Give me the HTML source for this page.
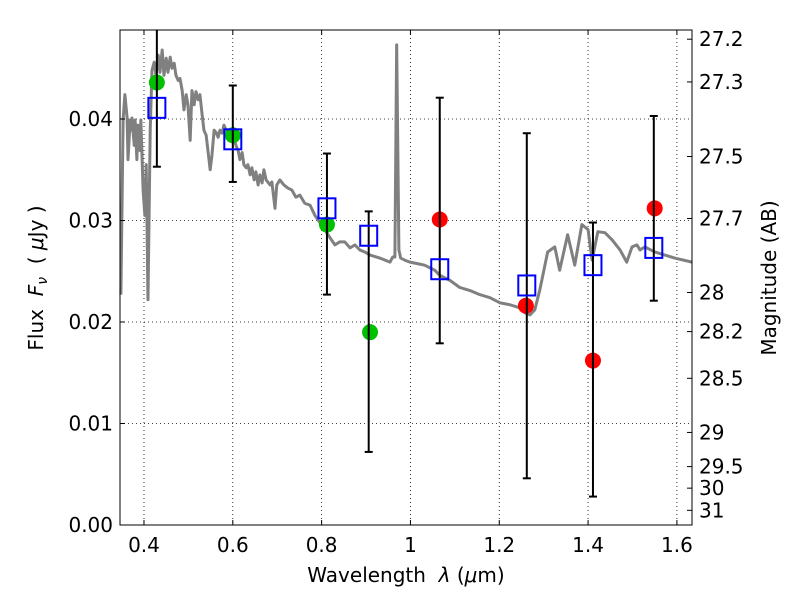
<!DOCTYPE html>
<html><head><meta charset="utf-8"><style>
body{margin:0;background:#fff}
svg text{font-family:"DejaVu Sans","Liberation Sans",sans-serif;fill:#000;white-space:pre}
</style></head><body>
<svg id="chart" width="800" height="600" xmlns="http://www.w3.org/2000/svg">
<rect width="800" height="600" fill="#fff"/>
<g id="grid"></g>
<g id="spec"></g>
<g id="marks"></g>
<rect x="120" y="30" width="572" height="495" fill="none" stroke="#000" stroke-width="1"/>
<g id="axes"></g>
<text x="406" y="582" font-size="20" text-anchor="middle">Wavelength  <tspan font-style="italic">λ</tspan> (<tspan font-style="italic">μ</tspan>m)</text>
<text transform="translate(43,278) rotate(-90)" font-size="20" text-anchor="middle">Flux  <tspan font-style="italic">F</tspan><tspan font-style="italic" font-size="14" dy="4">ν</tspan><tspan dy="-4">  ( </tspan><tspan font-style="italic">μ</tspan>Jy )</text>
<text transform="translate(776,278) rotate(-90)" font-size="20" text-anchor="middle">Magnitude (AB)</text>
</svg>
<script>
const specLam=[0.348,0.353,0.357,0.362,0.364,0.369,0.371,0.373,0.378,0.380,0.384,0.386,0.391,0.393,0.398,0.402,0.405,0.409,0.414,0.418,0.423,0.427,0.432,0.436,0.441,0.445,0.450,0.454,0.459,0.463,0.468,0.472,0.477,0.481,0.486,0.490,0.495,0.499,0.504,0.508,0.513,0.517,0.522,0.526,0.531,0.535,0.540,0.544,0.549,0.553,0.558,0.562,0.567,0.571,0.576,0.580,0.585,0.589,0.594,0.598,0.603,0.607,0.612,0.616,0.621,0.625,0.630,0.634,0.639,0.643,0.648,0.652,0.657,0.661,0.666,0.670,0.675,0.684,0.688,0.695,0.699,0.706,0.715,0.724,0.733,0.742,0.751,0.762,0.774,0.785,0.796,0.807,0.819,0.830,0.841,0.852,0.864,0.875,0.886,0.897,0.909,0.931,0.954,0.960,0.965,0.969,0.974,0.978,0.987,0.999,1.021,1.032,1.055,1.066,1.089,1.111,1.134,1.156,1.179,1.201,1.224,1.246,1.258,1.269,1.280,1.291,1.309,1.325,1.336,1.354,1.370,1.386,1.400,1.409,1.422,1.438,1.454,1.472,1.487,1.499,1.510,1.517,1.528,1.550,1.573,1.595,1.634];
const specFlux=[0.0227,0.0399,0.0424,0.0401,0.0360,0.0399,0.0389,0.0401,0.0374,0.0399,0.0360,0.0394,0.0369,0.0399,0.0330,0.0305,0.0355,0.0222,0.0389,0.0448,0.0456,0.0443,0.0463,0.0446,0.0468,0.0443,0.0460,0.0446,0.0461,0.0450,0.0455,0.0443,0.0438,0.0440,0.0428,0.0409,0.0424,0.0414,0.0379,0.0428,0.0414,0.0427,0.0419,0.0424,0.0404,0.0389,0.0384,0.0369,0.0350,0.0364,0.0389,0.0387,0.0382,0.0389,0.0386,0.0394,0.0389,0.0389,0.0384,0.0379,0.0381,0.0374,0.0369,0.0360,0.0367,0.0355,0.0352,0.0355,0.0345,0.0352,0.0340,0.0348,0.0335,0.0345,0.0337,0.0350,0.0340,0.0335,0.0338,0.0312,0.0335,0.0340,0.0335,0.0332,0.0330,0.0323,0.0325,0.0317,0.0315,0.0305,0.0298,0.0291,0.0283,0.0276,0.0279,0.0279,0.0273,0.0276,0.0271,0.0269,0.0266,0.0263,0.0259,0.0264,0.0264,0.0473,0.0271,0.0263,0.0261,0.0259,0.0257,0.0256,0.0251,0.0246,0.0241,0.0234,0.0231,0.0227,0.0224,0.0219,0.0217,0.0214,0.0209,0.0207,0.0212,0.0231,0.0269,0.0274,0.0251,0.0286,0.0256,0.0296,0.0291,0.0261,0.0289,0.0288,0.0281,0.0271,0.0259,0.0274,0.0276,0.0271,0.0274,0.0269,0.0266,0.0263,0.0259];
const greenLam=[0.429,0.600,0.812,0.909];
const greenFlux=[0.0436,0.0384,0.0296,0.0190];
const redLam=[1.066,1.260,1.411,1.550];
const redFlux=[0.0301,0.0216,0.0162,0.0312];
const sqLam=[0.429,0.600,0.812,0.906,1.066,1.262,1.411,1.548];
const sqFlux=[0.0411,0.0380,0.0312,0.0285,0.0252,0.0236,0.0256,0.0273];
const errLo=[0.0353,0.0338,0.0227,0.0072,0.0179,0.0046,0.0028,0.0221];
const errHi=[0.0505,0.0433,0.0366,0.0309,0.0421,0.0386,0.0298,0.0403];
const xTicks=[0.4,0.6,0.8,1.0,1.2,1.4,1.6];
const xTickLabels=["0.4","0.6","0.8","1","1.2","1.4","1.6"];
const yTicks=[0,0.01,0.02,0.03,0.04];
const yTickLabels=["0.00","0.01","0.02","0.03","0.04"];
const magTicks=[27.2,27.3,27.5,27.7,28,28.2,28.5,29,29.5,30,31];

const X0=120,X1=692,Y0=30,Y1=525,LMIN=0.346,LMAX=1.634,FMIN=0,FMAX=0.04877;
const NS="http://www.w3.org/2000/svg";
function xs(l){return X0+(l-LMIN)/(LMAX-LMIN)*(X1-X0);}
function ys(f){return Y1-(f-FMIN)/(FMAX-FMIN)*(Y1-Y0);}
function mk(t,a,p){const e=document.createElementNS(NS,t);for(const k in a)e.setAttribute(k,a[k]);p.appendChild(e);return e;}
const grid=document.getElementById('grid'),axes=document.getElementById('axes'),spec=document.getElementById('spec'),marks=document.getElementById('marks');
xTicks.forEach((v,i)=>{const x=xs(v);
 const g=mk('line',{x1:x,x2:x,y1:Y0,y2:Y1,stroke:'#000','stroke-dasharray':'1,3','stroke-width':0.8},grid);
 
 
 mk('line',{x1:x,x2:x,y1:Y1,y2:Y1-5,stroke:'#000'},axes);mk('line',{x1:x,x2:x,y1:Y0,y2:Y0+5,stroke:'#000'},axes);
 const t=mk('text',{x:x,y:Y1+27,'font-size':20,'text-anchor':'middle'},axes);t.textContent=xTickLabels[i];
 
 });
yTicks.forEach((v,i)=>{const y=ys(v);
 const g=mk('line',{x1:X0,x2:X1,y1:y,y2:y,stroke:'#000','stroke-dasharray':'1,3','stroke-width':0.8},grid);
 
 
 mk('line',{x1:X0,x2:X0+5,y1:y,y2:y,stroke:'#000'},axes);
 const t=mk('text',{x:X0-7,y:y+7,'font-size':20,'text-anchor':'end'},axes);t.textContent=yTickLabels[i];
 
 });
magTicks.forEach(m=>{const y=ys(Math.pow(10,(23.9-m)/2.5));
 mk('line',{x1:X1-5,x2:X1,y1:y,y2:y,stroke:'#000'},axes);
 const t=mk('text',{x:X1+7,y:y+7,'font-size':20},axes);t.textContent=String(m);
 
 });
const sp=mk('polyline',{points:specLam.map((l,i)=>xs(l)+','+ys(specFlux[i])).join(' '),fill:'none',stroke:'#808080','stroke-width':3,'stroke-linejoin':'round'},spec);


const cp=mk('clipPath',{id:'clip'},marks);mk('rect',{x:X0,y:Y0,width:X1-X0,height:Y1-Y0},cp);
marks.setAttribute('clip-path','url(#clip)');
greenFlux.forEach((f,i)=>{const c=mk('circle',{cx:xs(greenLam[i]),cy:ys(f),r:8,fill:'#00c000'},marks);
 
 });
redFlux.forEach((f,i)=>{const c=mk('circle',{cx:xs(redLam[i]),cy:ys(f),r:8,fill:'#ff0000'},marks);
 
 });
sqFlux.forEach((f,i)=>{const x=xs(sqLam[i]);
 const e=mk('g',{},marks);
 
 
 mk('line',{x1:x,x2:x,y1:ys(errLo[i]),y2:ys(errHi[i]),stroke:'#000','stroke-width':2},e);
 mk('line',{x1:x-4,x2:x+4,y1:ys(errLo[i]),y2:ys(errLo[i]),stroke:'#000','stroke-width':2},e);
 mk('line',{x1:x-4,x2:x+4,y1:ys(errHi[i]),y2:ys(errHi[i]),stroke:'#000','stroke-width':2},e);
 const s=mk('rect',{x:x-8.5,y:ys(f)-10,width:17,height:20,fill:'none',stroke:'#0000ff','stroke-width':2},marks);
 
 });
</script>
</body></html>
